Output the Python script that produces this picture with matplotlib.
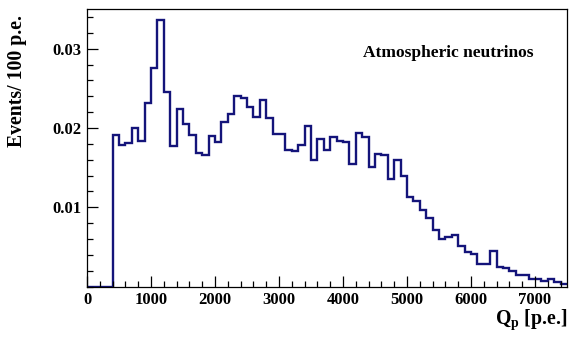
import numpy as np
import matplotlib
matplotlib.use("Agg")
import matplotlib.pyplot as plt
from matplotlib.ticker import MultipleLocator, FixedLocator

# Bin edges: 0 .. 7500 in steps of 100 p.e.
bin_low = 0
bin_high = 7500
bin_width = 100

# Events / 100 p.e. per bin
counts = [
    0, 0, 0, 0,                                              # 0-400
    0.0191, 0.0178, 0.0181, 0.0200, 0.0183, 0.0231,          # 400-1000
    0.0275, 0.0336, 0.0245, 0.0177, 0.0224, 0.0205,          # 1000-1600
    0.0191, 0.0168, 0.0166, 0.0190,                          # 1600-2000
    0.0182, 0.0207, 0.0217, 0.0240, 0.0238, 0.0227,          # 2000-2600
    0.0214, 0.0235, 0.0212, 0.0192,                          # 2600-3000
    0.0192, 0.0172, 0.0171, 0.0179, 0.0203, 0.0159,          # 3000-3600
    0.0186, 0.0172, 0.0188, 0.0183,                          # 3600-4000
    0.0182, 0.0154, 0.0194, 0.0189, 0.0151, 0.0167,          # 4000-4600
    0.0166, 0.0135, 0.0160, 0.0139,                          # 4600-5000
    0.0113, 0.0108, 0.0097, 0.0087, 0.0071, 0.0060,          # 5000-5600
    0.0063, 0.0065, 0.0051, 0.0043,                          # 5600-6000
    0.0041, 0.0029, 0.0028, 0.0045, 0.0024, 0.0023,          # 6000-6600
    0.0020, 0.00145, 0.0014, 0.0010,                         # 6600-7000
    0.0009, 0.0007, 0.0010, 0.0006, 0.0003,                  # 7000-7500
]

y_ticks = [0.01, 0.02, 0.03]
y_tick_labels = ["0.01", "0.02", "0.03"]
x_ticks = [0, 1000, 2000, 3000, 4000, 5000, 6000, 7000]
x_tick_labels = ["0", "1000", "2000", "3000", "4000", "5000", "6000", "7000"]

edges = np.arange(bin_low, bin_high + bin_width, bin_width)

plt.rcParams['font.family'] = ['Liberation Serif', 'DejaVu Serif']
plt.rcParams['mathtext.fontset'] = 'custom'
plt.rcParams['mathtext.rm'] = 'Liberation Serif:bold'
plt.rcParams['mathtext.it'] = 'Liberation Serif:bold'
plt.rcParams['mathtext.bf'] = 'Liberation Serif:bold'

fig = plt.figure(figsize=(5.7, 3.38), dpi=100)
ax = fig.add_axes([87/570, 1 - 286.5/338, 480/570, (286.5 - 9)/338])

ax.stairs(counts, edges, color='#14147a', linewidth=1.7, baseline=None)

ax.set_xlim(bin_low, bin_high)
ax.set_ylim(0, 0.035)

ax.xaxis.set_major_locator(FixedLocator(x_ticks))
ax.set_xticklabels(x_tick_labels)
ax.xaxis.set_minor_locator(MultipleLocator(200))
ax.yaxis.set_major_locator(FixedLocator(y_ticks))
ax.set_yticklabels(y_tick_labels)
ax.yaxis.set_minor_locator(MultipleLocator(0.002))

ax.tick_params(which='both', direction='in', top=False, right=False, width=0.9)
ax.tick_params(which='major', length=8, labelsize=12, pad=4)
ax.tick_params(which='minor', length=4)
for lab in ax.get_xticklabels() + ax.get_yticklabels():
    lab.set_fontweight('bold')

for sp in ax.spines.values():
    sp.set_linewidth(0.9)

fig.text(17/570, 1 - 81/338, "Events/ 100 p.e.", rotation=90, ha='center', va='center',
         fontsize=14.2, fontweight='bold')
fig.text(567/570, 1 - 320/338, r"Q$_{\mathbf{p}}$ [p.e.]", ha='right', va='center',
         fontsize=14.3, fontweight='bold')
fig.text(448/570, 1 - 53/338, "Atmospheric neutrinos", ha='center', va='center',
         fontsize=12.5, fontweight='bold')

fig.savefig("out.png", dpi=100)
